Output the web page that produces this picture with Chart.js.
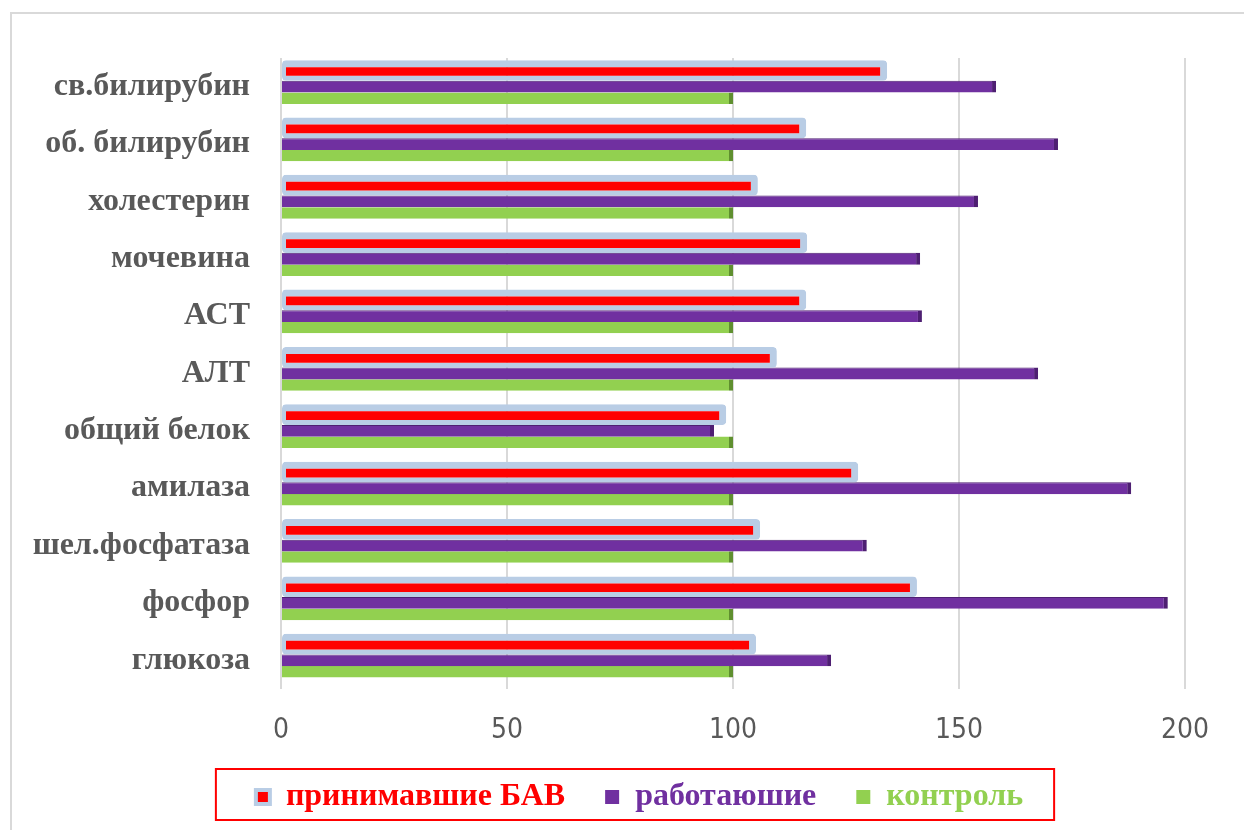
<!DOCTYPE html>
<html>
<head>
<meta charset="utf-8">
<script src="https://cdn.jsdelivr.net/npm/chart.js@4/dist/chart.umd.min.js"></script>
<style>
  html, body { margin: 0; padding: 0; background: #ffffff; }
  #wrap { position: relative; width: 1244px; height: 830px; overflow: hidden; }
  #frame { position: absolute; left: 10px; top: 12px; width: 1300px; height: 900px; border: 2px solid #d9d9d9; box-sizing: border-box; }
  #c { position: absolute; left: 0; top: 0; }
</style>
</head>
<body>
<div id="wrap">
  <div id="frame"></div>
  <canvas id="c" width="1244" height="830"></canvas>
</div>
<script>
const categories = ['св.билирубин', 'об. билирубин', 'холестерин', 'мочевина', 'АСТ', 'АЛТ', 'общий белок', 'амилаза', 'шел.фосфатаза', 'фосфор', 'глюкоза'];
const seriesNames = ['принимавшие БАВ', 'работаюшие', 'контроль'];
const bavValues = [134.1, 116.2, 105.5, 116.4, 116.2, 109.7, 98.5, 127.7, 106, 140.7, 105.1];
const workerValues = [158.2, 171.9, 154.2, 141.4, 141.8, 167.5, 95.8, 188.1, 129.6, 196.2, 121.7];
const controlValues = [100, 100, 100, 100, 100, 100, 100, 100, 100, 100, 100];
const xTicks = [0, 50, 100, 150, 200];

const RED = '#ff0000', BLUE = '#b9cde5', PURPLE = '#7030a0', PURPLE_D = '#4e1f72', GREEN = '#92d050', GREEN_D = '#5f8f2f';
const textColors = [RED, PURPLE, GREEN];
const LEGEND_PAD = 40;

const legendBoxPlugin = {
  id: 'legendBox',
  afterLayout(chart) {
    const lg = chart.legend;
    lg.left += 47; lg.right += 47;
  },
  afterDraw(chart) {
    const hb = chart.legend.legendHitBoxes;
    if (!hb || !hb.length) return;
    const ctx = chart.ctx;
    const cy = hb[0].top + hb[0].height / 2;
    const left = hb[0].left - 40;
    const last = hb[hb.length - 1];
    const right = last.left + last.width + 31;
    ctx.save();
    ctx.strokeStyle = RED;
    ctx.lineWidth = 2;
    ctx.strokeRect(left, cy - 28, right - left, 51);
    ctx.restore();
  }
};

new Chart(document.getElementById('c'), {
  type: 'bar',
  data: {
    labels: categories,
    datasets: [
      {
        label: seriesNames[0], data: bavValues,
        backgroundColor: RED, borderColor: BLUE,
        borderWidth: {top: 7, bottom: 5, left: 4, right: 7},
        borderSkipped: false, borderRadius: 4,
        categoryPercentage: 0.847, barPercentage: 1.278
      },
      {
        label: seriesNames[1], data: workerValues,
        backgroundColor: PURPLE, borderColor: PURPLE_D,
        borderWidth: {right: 4, top: 1}, borderSkipped: false,
        categoryPercentage: 0.6, barPercentage: 1.03
      },
      {
        label: seriesNames[2], data: controlValues,
        backgroundColor: GREEN, borderColor: GREEN_D,
        borderWidth: {right: 4}, borderSkipped: false,
        categoryPercentage: 0.601, barPercentage: 1.0
      }
    ]
  },
  options: {
    indexAxis: 'y',
    responsive: false,
    animation: false,
    layout: { padding: { top: 58, right: 59, bottom: 7, left: 0 } },
    scales: {
      x: {
        min: 0, max: 200,
        afterBuildTicks(scale) { scale.ticks = xTicks.map(v => ({ value: v })); },
        grid: { color: '#d9d9d9', lineWidth: 2, drawTicks: false },
        border: { display: false },
        ticks: {
          padding: 25,
          color: '#595959',
          font: { family: '"DejaVu Sans Condensed", "Liberation Sans Narrow", sans-serif', size: 28 }
        },
        afterFit(scale) { scale.height = 92 - LEGEND_PAD; }
      },
      y: {
        grid: { display: false, drawTicks: false },
        border: { display: false },
        ticks: {
          padding: 31,
          color: '#595959',
          font: { family: '"Liberation Serif", "Times New Roman", serif', size: 32, weight: 'bold' }
        },
        afterFit(scale) { scale.width = 281; }
      }
    },
    plugins: {
      legend: {
        position: 'bottom',
        labels: {
          boxWidth: 14, boxHeight: 14, padding: LEGEND_PAD,
          font: { family: '"Liberation Serif", "Times New Roman", serif', size: 32, weight: 'bold' },
          generateLabels(chart) {
            return chart.data.datasets.map((ds, i) => ({
              text: ds.label,
              fillStyle: ds.backgroundColor,
              strokeStyle: i === 0 ? BLUE : ds.backgroundColor,
              lineWidth: i === 0 ? 4 : 0,
              fontColor: textColors[i],
              hidden: false,
              datasetIndex: i
            }));
          }
        }
      },
      tooltip: { enabled: false }
    }
  },
  plugins: [legendBoxPlugin]
});
</script>
</body>
</html>
